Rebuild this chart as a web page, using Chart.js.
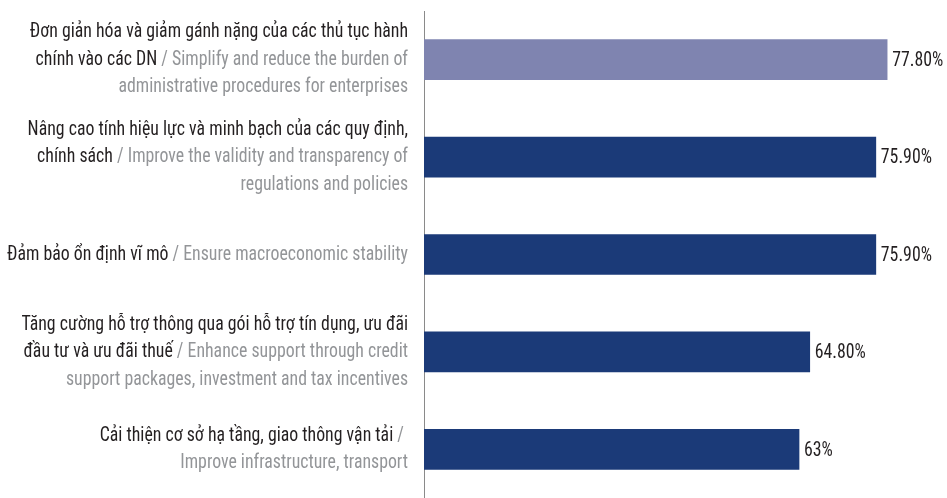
<!DOCTYPE html>
<html>
<head>
<meta charset="utf-8">
<script src="https://cdn.jsdelivr.net/npm/chart.js@4"></script>
<style>
  html, body { margin: 0; padding: 0; background: #fff; }
  #wrap { width: 947px; height: 498px; }
</style>
</head>
<body>
<div id="wrap"><canvas id="chart"></canvas></div>
<script>
// categories, Vietnamese part (black) and English part (gray)
const categoriesVi = [
  "Đơn giản hóa và giảm gánh nặng của các thủ tục hành chính vào các DN",
  "Nâng cao tính hiệu lực và minh bạch của các quy định, chính sách",
  "Đảm bảo ổn định vĩ mô",
  "Tăng cường hỗ trợ thông qua gói hỗ trợ tín dụng, ưu đãi đầu tư và ưu đãi thuế",
  "Cải thiện cơ sở hạ tầng, giao thông vận tải"
];
const categoriesEn = [
  "Simplify and reduce the burden of administrative procedures for enterprises",
  "Improve the validity and transparency of regulations and policies",
  "Ensure macroeconomic stability",
  "Enhance support through credit support packages, investment and tax incentives",
  "Improve infrastructure, transport"
];
// how each label is broken into lines: [text, isEnglish]
const labelLines = [
  [[["Đơn giản hóa và giảm gánh nặng của các thủ tục hành", false]],
   [["chính vào các DN", false], [" / Simplify and reduce the burden of", true]],
   [["administrative procedures for enterprises", true]]],
  [[["Nâng cao tính hiệu lực và minh bạch của các quy định,", false]],
   [["chính sách", false], [" / Improve the validity and transparency of", true]],
   [["regulations and policies", true]]],
  [[["Đảm bảo ổn định vĩ mô", false], [" / Ensure macroeconomic stability", true]]],
  [[["Tăng cường hỗ trợ thông qua gói hỗ trợ tín dụng, ưu đãi", false]],
   [["đầu tư và ưu đãi thuế", false], [" / Enhance support through credit", true]],
   [["support packages, investment and tax incentives", true]]],
  [[["Cải thiện cơ sở hạ tầng, giao thông vận tải", false], [" / ", true]],
   [["Improve infrastructure, transport", true]]]
];
const values = [77.8, 75.9, 75.9, 64.8, 63];
const valueLabels = ["77.80%", "75.90%", "75.90%", "64.80%", "63%"];
const barColors = ["#7f84b0", "#1b3a78", "#1b3a78", "#1b3a78", "#1b3a78"];

const FONT = '"Liberation Sans Narrow", "Roboto Condensed", "Roboto", "Liberation Sans", Arial, sans-serif';
const BLACK = "#231f20";
const GRAY = "#939598";

const labelPlugin = {
  id: "labels",
  afterDatasetsDraw(chart) {
    const ctx = chart.ctx;
    const xs = chart.scales.x, ys = chart.scales.y;
    const area = chart.chartArea;
    ctx.save();
    ctx.font = "21px " + FONT;
    // squeeze the text so the widest line matches the reference width
    const widest = labelLines[2][0].map(s => s[0]).join("");
    const sx = Math.min(1, 401 / ctx.measureText(widest).width);
    ctx.textBaseline = "middle";
    const rightX = area.left - 16;
    const lineH = 27.5;
    labelLines.forEach((lines, i) => {
      const cy = ys.getPixelForValue(i);
      const top = cy - (lines.length - 1) * lineH / 2;
      lines.forEach((segs, j) => {
        const y = top + j * lineH;
        let total = 0;
        segs.forEach(s => total += ctx.measureText(s[0]).width);
        let x = rightX / sx - total;
        ctx.save();
        ctx.scale(sx, 1);
        ctx.textAlign = "left";
        segs.forEach(s => {
          ctx.fillStyle = s[1] ? GRAY : BLACK;
          ctx.fillText(s[0], x, y);
          x += ctx.measureText(s[0]).width;
        });
        ctx.restore();
      });
    });
    // value labels at bar ends
    values.forEach((v, i) => {
      const x = xs.getPixelForValue(v) + 5;
      const y = ys.getPixelForValue(i);
      ctx.save();
      ctx.scale(sx, 1);
      ctx.fillStyle = BLACK;
      ctx.textAlign = "left";
      ctx.fillText(valueLabels[i], x / sx, y + 1);
      ctx.restore();
    });
    ctx.restore();
  }
};

new Chart(document.getElementById("chart"), {
  type: "bar",
  data: {
    labels: categoriesVi.map((c, i) => c + " / " + categoriesEn[i]),
    datasets: [{
      data: values,
      backgroundColor: barColors,
      barThickness: 40,
      categoryPercentage: 1
    }]
  },
  options: {
    indexAxis: "y",
    responsive: true,
    maintainAspectRatio: false,
    animation: false,
    layout: { padding: { left: 416, right: 17, top: 11, bottom: -8 } },
    plugins: {
      legend: { display: false },
      tooltip: { enabled: false }
    },
    scales: {
      x: { min: 0, max: 85, display: false },
      y: {
        ticks: { display: false },
        grid: { display: false },
        border: { display: true, color: "#8a8a8a", width: 1 }
      }
    }
  },
  plugins: [labelPlugin]
});
</script>
</body>
</html>
